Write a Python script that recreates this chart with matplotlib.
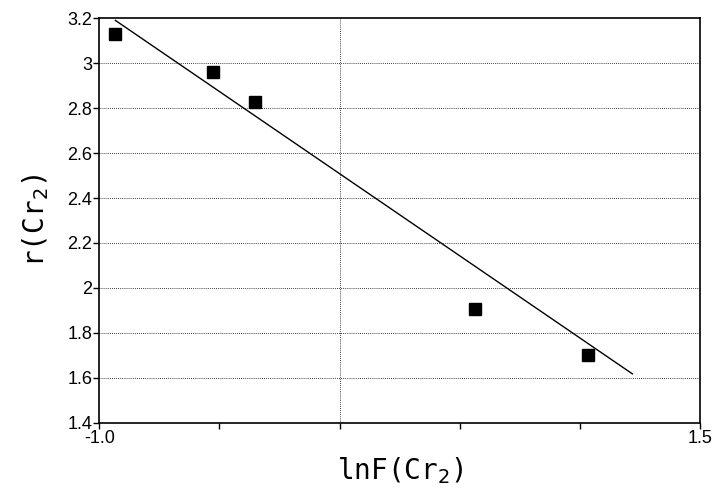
import matplotlib.pyplot as plt

# data
lnF = [-0.933, -0.526, -0.351, 0.564, 1.034]
r = [3.129, 2.96, 2.827, 1.907, 1.702]

# fitted line end points
fit_x = [-0.933, 1.217]
fit_y = [3.19, 1.618]

y_ticks = [1.4, 1.6, 1.8, 2.0, 2.2, 2.4, 2.6, 2.8, 3.0, 3.2]
y_labels = ['1.4', '1.6', '1.8', '2', '2.2', '2.4', '2.6', '2.8', '3', '3.2']
x_ticks = [-1.0, -0.5, 0.0, 0.5, 1.0, 1.5]
x_labels = ['-1.0', '', '', '', '', '1.5']

fig = plt.figure(figsize=(7.14, 4.9), dpi=100)
ax = fig.add_axes([0.139, 0.137, 0.842, 0.826])

# grid: horizontal at every y tick, one vertical line at x = 0
for yv in y_ticks[1:-1]:
    ax.axhline(yv, color='black', lw=0.6, ls=(0, (1, 1.5)), zorder=1)
ax.axvline(0.0, color='black', lw=0.6, ls=(0, (1, 1.5)), zorder=1)

ax.plot(fit_x, fit_y, color='black', lw=1.0, zorder=2)
ax.plot(lnF, r, 's', color='black', markersize=9, zorder=3)

ax.set_xlim(-1.0, 1.5)
ax.set_ylim(1.4, 3.2)
ax.set_xticks(x_ticks)
ax.set_xticklabels(x_labels, fontfamily='Liberation Sans', fontsize=13)
ax.set_yticks(y_ticks)
ax.set_yticklabels(y_labels, fontfamily='Liberation Sans', fontsize=13)
ax.tick_params(direction='out', length=4, width=1, pad=1)
for s in ax.spines.values():
    s.set_linewidth(1.2)

ax.set_xlabel('lnF(Cr$_2$)', fontfamily='DejaVu Sans Mono', fontsize=20, labelpad=6)
ax.set_ylabel('r(Cr$_2$)', fontfamily='DejaVu Sans Mono', fontsize=20, labelpad=12)

fig.savefig('out.png', dpi=100)
